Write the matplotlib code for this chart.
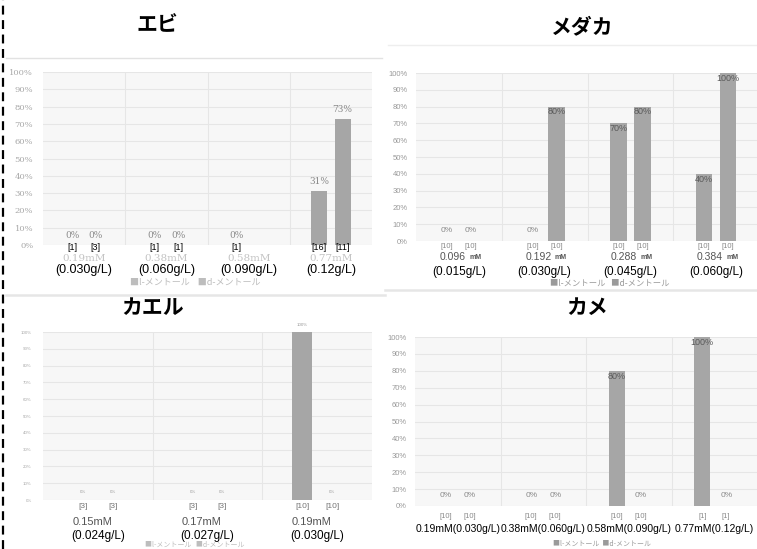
import matplotlib
matplotlib.use("Agg")
import matplotlib.pyplot as plt
import numpy as np
from matplotlib.lines import Line2D

plt.rcParams['font.family'] = ['Liberation Sans', 'Noto Sans CJK JP', 'DejaVu Sans']
JP = ['Noto Sans CJK JP', 'DejaVu Sans']

W, H = 757, 549

# エビ
ebi_conc = ["0.19mM", "0.38mM", "0.58mM", "0.77mM"]
ebi_gl = ["(0.030g/L)", "(0.060g/L)", "(0.090g/L)", "(0.12g/L)"]
ebi_l = [0.0, 0.0, 0.0, 0.31]
ebi_d = [0.0, 0.0, np.nan, 0.73]
ebi_nl = ["[1]", "[1]", "[1]", "[16]"]
ebi_nd = ["[3]", "[1]", "", "[11]"]

# メダカ
medaka_conc = ["0.096", "0.192", "0.288", "0.384"]
medaka_gl = ["(0.015g/L)", "(0.030g/L)", "(0.045g/L)", "(0.060g/L)"]
medaka_l = [0.0, 0.0, 0.70, 0.40]
medaka_d = [0.0, 0.80, 0.80, 1.00]
medaka_nl = ["[10]", "[10]", "[10]", "[10]"]
medaka_nd = ["[10]", "[10]", "[10]", "[10]"]

# カエル
kaeru_conc = ["0.15mM", "0.17mM", "0.19mM"]
kaeru_gl = ["(0.024g/L)", "(0.027g/L)", "(0.030g/L)"]
kaeru_l = [0.0, 0.0, 1.00]
kaeru_d = [0.0, 0.0, 0.0]
kaeru_nl = ["[3]", "[3]", "[10]"]
kaeru_nd = ["[3]", "[3]", "[10]"]

# カメ
kame_conc = ["0.19mM(0.030g/L)", "0.38mM(0.060g/L)", "0.58mM(0.090g/L)", "0.77mM(0.12g/L)"]
kame_l = [0.0, 0.0, 0.80, 1.00]
kame_d = [0.0, 0.0, 0.0, 0.0]
kame_nl = ["[10]", "[10]", "[10]", "[1]"]
kame_nd = ["[10]", "[10]", "[10]", "[1]"]

legend_text = "■l-メントール   ■d-メントール"
bar_color = "#a6a6a6"


def fx(x):
    return x / W


def fy(y):
    return 1 - y / H


def make_axes(fig, x0, x1, y_top, y_bot):
    return fig.add_axes([fx(x0), fy(y_bot), (x1 - x0) / W, (y_bot - y_top) / H])


def draw_panel(ax, l_vals, d_vals, width, offset, tick_size, tick_color, pad, serif=False):
    n = len(l_vals)
    x = np.arange(n)
    ax.set_facecolor("#f7f7f7")
    ax.bar(x - offset, l_vals, width, color=bar_color, zorder=3)
    ax.bar(x + offset, d_vals, width, color=bar_color, zorder=3)
    ax.set_xlim(-0.5, n - 0.5)
    ax.set_ylim(0, 1.0)
    ticks = np.linspace(0, 1, 11)
    ax.set_yticks(ticks)
    ax.set_yticklabels([f"{int(round(t * 100))}%" for t in ticks],
                       fontsize=tick_size, color=tick_color,
                       family='serif' if serif else None)
    ax.tick_params(axis='y', length=0, pad=pad)
    ax.set_xticks([])
    ax.set_xticks(np.arange(n - 1) + 0.5, minor=True)
    ax.tick_params(axis='x', which='minor', length=0)
    ax.grid(True, axis='y', color="#e6e6e6", lw=0.8, zorder=0)
    ax.grid(True, axis='x', which='minor', color="#e6e6e6", lw=0.8, zorder=0)
    for s in ax.spines.values():
        s.set_visible(False)
    return x


def below(ax, xs, labels, y_px, ax_bottom_px, ax_height_px, **kw):
    # place text a fixed number of pixels under the axes, at data x
    yy = -(y_px - ax_bottom_px) / ax_height_px
    for xv, t in zip(xs, labels):
        if t:
            ax.text(xv, yy, t, transform=ax.get_xaxis_transform(),
                    ha='center', va='center', clip_on=False, **kw)


def bar_labels(ax, xs, vals, zero_y, size):
    # zero values sit just above the axis, the rest inside the top of the bar
    for xv, v in zip(xs, vals):
        if v == 0:
            ax.text(xv, zero_y, "0%", ha='center', va='center', fontsize=size, color="#8a8a8a")
        else:
            ax.text(xv, v - 0.005, f"{v * 100:.0f}%", ha='center', va='top',
                    fontsize=size + 0.5, color="#5a5a5a", zorder=4)


fig = plt.figure(figsize=(W / 100, H / 100), dpi=100)
fig.patch.set_facecolor("white")

# left dashed border and separators
fig.add_artist(Line2D([fx(2.5), fx(2.5)], [0, 1], color="black", lw=1.6,
                      linestyle=(0, (4, 2.5))))
fig.add_artist(Line2D([fx(6), fx(382)], [fy(58), fy(58)], color="#e2e2e2", lw=1.0))
fig.add_artist(Line2D([fx(6), fx(385)], [fy(295), fy(295)], color="#e6e6e6", lw=1.8))
fig.add_artist(Line2D([fx(385), fx(757)], [fy(290), fy(290)], color="#e6e6e6", lw=1.8))
fig.add_artist(Line2D([fx(388), fx(757)], [fy(45), fy(45)], color="#eeeeee", lw=1.0))

# ---- エビ ----
fig.text(fx(157), fy(25), "エビ", family=JP, fontsize=15, weight='bold',
         ha='center', va='center')
ax1 = make_axes(fig, 43, 372, 72, 245)
x = draw_panel(ax1, ebi_l, ebi_d, 0.195, 0.143, 6, "#a8a8a8", 7, serif=True)
for off, vals in ((-0.143, ebi_l), (0.143, ebi_d)):
    for xv, v in zip(x + off, vals):
        if np.isnan(v):
            continue
        ax1.text(xv, 0.055 if v == 0 else v + 0.03, f"{v * 100:.0f}%", ha='center',
                 va='bottom' if v else 'center', fontsize=6.5, color="#8a8a8a", family='serif')
below(ax1, x - 0.143, ebi_nl, 248, 245, 173, fontsize=6.5, color="black")
below(ax1, x + 0.143, ebi_nd, 248, 245, 173, fontsize=6.5, color="black")
below(ax1, x, ebi_conc, 258.5, 245, 173, fontsize=7.5, color="#c4c4c4", family='serif')
below(ax1, x, ebi_gl, 270, 245, 173, fontsize=9, color="black")
fig.text(fx(195), fy(282), "■l-メントール    ■d-メントール", family=JP, fontsize=6.5,
         color="#bdbdbd", ha='center', va='center')

# ---- メダカ ----
fig.text(fx(582), fy(27), "メダカ", family=JP, fontsize=15, weight='bold',
         ha='center', va='center')
ax2 = make_axes(fig, 416, 759, 73, 241)
x = draw_panel(ax2, medaka_l, medaka_d, 0.19, 0.14, 5.5, "#9a9a9a", 6)
bar_labels(ax2, x - 0.14, medaka_l, 0.06, 6)
bar_labels(ax2, x + 0.14, medaka_d, 0.06, 6)
below(ax2, x - 0.14, medaka_nl, 246, 241, 168, fontsize=5.5, color="#8a8a8a")
below(ax2, x + 0.14, medaka_nd, 246, 241, 168, fontsize=5.5, color="#8a8a8a")
yy = -(256.5 - 241) / 168
for xv, t in zip(x, medaka_conc):
    ax2.text(xv + 0.08, yy, t, transform=ax2.get_xaxis_transform(), ha='right',
             va='center', fontsize=7.5, color="#555555", clip_on=False)
    ax2.text(xv + 0.12, yy - 0.005, "mM", transform=ax2.get_xaxis_transform(), ha='left',
             va='center', fontsize=5, weight='bold', color="#555555", clip_on=False)
below(ax2, x, medaka_gl, 272, 241, 168, fontsize=8.5, color="black")
fig.text(fx(610), fy(283.5), legend_text, family=JP, fontsize=6, color="#9a9a9a",
         ha='center', va='center')

# ---- カエル ----
fig.text(fx(153), fy(308), "カエル", family=JP, fontsize=15, weight='bold',
         ha='center', va='center')
ax3 = make_axes(fig, 43, 372, 332, 500)
x = draw_panel(ax3, kaeru_l, kaeru_d, 0.18, 0.136, 3.2, "#a8a8a8", 8)
for off, vals in ((-0.136, kaeru_l), (0.136, kaeru_d)):
    for xv, v in zip(x + off, vals):
        ax3.text(xv, 0.045 if v == 0 else v + 0.04, f"{v * 100:.0f}%", ha='center',
                 va='center', fontsize=3.2, color="#9a9a9a", clip_on=False)
below(ax3, x - 0.136, kaeru_nl, 506, 500, 168, fontsize=6, color="#777777")
below(ax3, x + 0.136, kaeru_nd, 506, 500, 168, fontsize=6, color="#777777")
below(ax3, x - 0.05, kaeru_conc, 522, 500, 168, fontsize=8, color="#555555")
below(ax3, x, kaeru_gl, 536, 500, 168, fontsize=8.5, color="black")
fig.text(fx(195), fy(545), legend_text, family=JP, fontsize=5, color="#bdbdbd",
         ha='center', va='center')

# ---- カメ ----
fig.text(fx(587), fy(307), "カメ", family=JP, fontsize=15, weight='bold',
         ha='center', va='center')
ax4 = make_axes(fig, 415, 757, 337, 506)
x = draw_panel(ax4, kame_l, kame_d, 0.19, 0.14, 5.5, "#9a9a9a", 6)
bar_labels(ax4, x - 0.14, kame_l, 0.06, 6)
bar_labels(ax4, x + 0.14, kame_d, 0.06, 6)
below(ax4, x - 0.14, kame_nl, 517, 506, 169, fontsize=5.5, color="#8a8a8a")
below(ax4, x + 0.14, kame_nd, 517, 506, 169, fontsize=5.5, color="#8a8a8a")
below(ax4, x, kame_conc, 529.5, 506, 169, fontsize=7.5, color="black")
fig.text(fx(602), fy(544), "■l-メントール  ■d-メントール", family=JP, fontsize=5,
         color="#9a9a9a", ha='center', va='center')

fig.savefig("out.png", dpi=100)
